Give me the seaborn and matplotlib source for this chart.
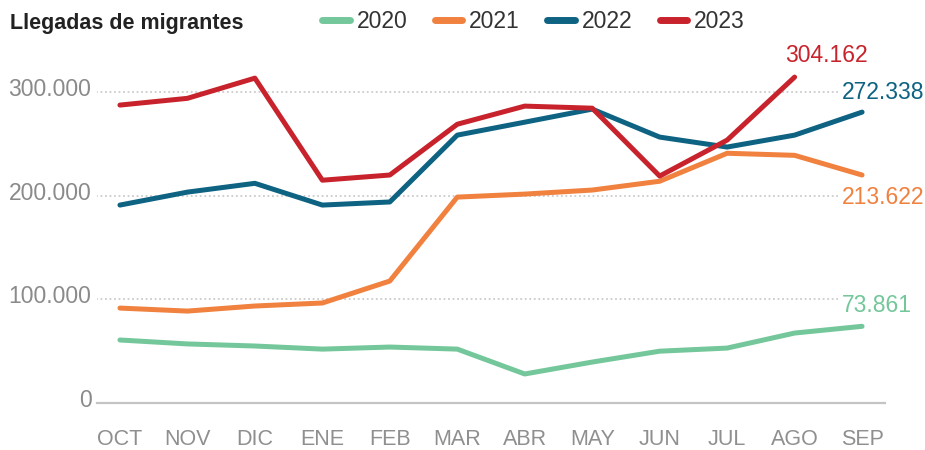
import numpy as np
import pandas as pd
import matplotlib
matplotlib.use("Agg")
import matplotlib.pyplot as plt
import matplotlib.transforms as mtransforms
from matplotlib.lines import Line2D
import seaborn as sns

# -------------------------------
# Data
# -------------------------------
months = ["OCT", "NOV", "DIC", "ENE", "FEB", "MAR", "ABR", "MAY", "JUN", "JUL", "AGO", "SEP"]
years = ["2020", "2021", "2022", "2023"]

arrivals_2020 = [60800, 57000, 55000, 52000, 54000, 52000, 28000, 39500, 50000, 53000, 67500, 74000]
arrivals_2021 = [91600, 88700, 93600, 96500, 117700, 198700, 201600, 205500, 214000, 241000, 239000, 220000]
arrivals_2022 = [191000, 203500, 212000, 191000, 194000, 258500, 271000, 283600, 256600, 247000, 258500, 280700]
arrivals_2023 = [287500, 294000, 313500, 215000, 220000, 269000, 286500, 284500, 219000, 253700, 314500]

end_labels = ["73.861", "213.622", "272.338", "304.162"]
y_ticks = [0, 100000, 200000, 300000]
y_tick_labels = ["0", "100.000", "200.000", "300.000"]

colors = {"2020": "#74c79a", "2021": "#f0813f", "2022": "#0e6282", "2023": "#c8232c"}

series = {"2020": arrivals_2020, "2021": arrivals_2021, "2022": arrivals_2022, "2023": arrivals_2023}
rows = []
for year in years:
    for m, v in zip(months, series[year]):
        rows.append({"month": m, "year": year, "value": v})
df = pd.DataFrame(rows)

# -------------------------------
# Plot
# -------------------------------
sns.set_theme(style="white")
plt.rcParams["font.family"] = ["Liberation Sans", "DejaVu Sans"]

fig = plt.figure(figsize=(9.25, 4.5), dpi=100)
ax = fig.add_axes([97 / 925, 47 / 450, 788 / 925, 343 / 450])

sns.lineplot(data=df, x="month", y="value", hue="year", palette=colors,
             estimator=None, sort=False, linewidth=3.6, legend=False, ax=ax)

ax.set_xlim(-0.34, 11.34)
ax.set_ylim(0, 331000)

# dotted gridlines that stop before the end labels
ax.hlines(y_ticks[1:], -0.36, 10.65, colors="#cccccc", linestyles=(0, (1, 1.5)), linewidth=1.3, zorder=0)

for s in ["top", "right", "left"]:
    ax.spines[s].set_visible(False)
ax.spines["bottom"].set_color("#c4c4c4")
ax.spines["bottom"].set_linewidth(1.6)

ax.set_xlabel("")
ax.set_ylabel("")
ax.set_xticks(range(len(months)))
ax.set_xticklabels(months, color="#8f8f8f", fontsize=15.5)
ax.set_yticks(y_ticks)
ax.set_yticklabels(y_tick_labels, color="#8a8a8a", fontsize=16.5)
ax.tick_params(axis="x", length=0, pad=19)
ax.tick_params(axis="y", length=0, pad=4)
shift = mtransforms.ScaledTranslation(0, 5 / 100, fig.dpi_scale_trans)
for lab in ax.get_yticklabels():
    lab.set_transform(lab.get_transform() + shift)

# end labels
label_pos = {"2020": (10.70, 94500), "2021": (10.70, 198700),
             "2022": (10.70, 300000), "2023": (9.86, 335700)}
for year, text in zip(years, end_labels):
    x, y = label_pos[year]
    ax.text(x, y, text, color=colors[year], fontsize=16.5, ha="left", va="center", clip_on=False)

# title and legend
fig.text(10 / 925, 1 - 24 / 450, "Llegadas de migrantes", fontsize=15.5, fontweight="bold",
         color="#222222", ha="left", va="center")

handles = [Line2D([0], [0], color=colors[y], linewidth=5) for y in years]
fig.legend(handles, years, loc="center left", bbox_to_anchor=(322 / 925, 1 - 22 / 450),
           ncol=4, frameon=False, fontsize=16.5, handlelength=1.2, handletextpad=0.3,
           columnspacing=1.2, borderpad=0, borderaxespad=0, labelcolor="#333333")

fig.savefig("out.png", dpi=100)
